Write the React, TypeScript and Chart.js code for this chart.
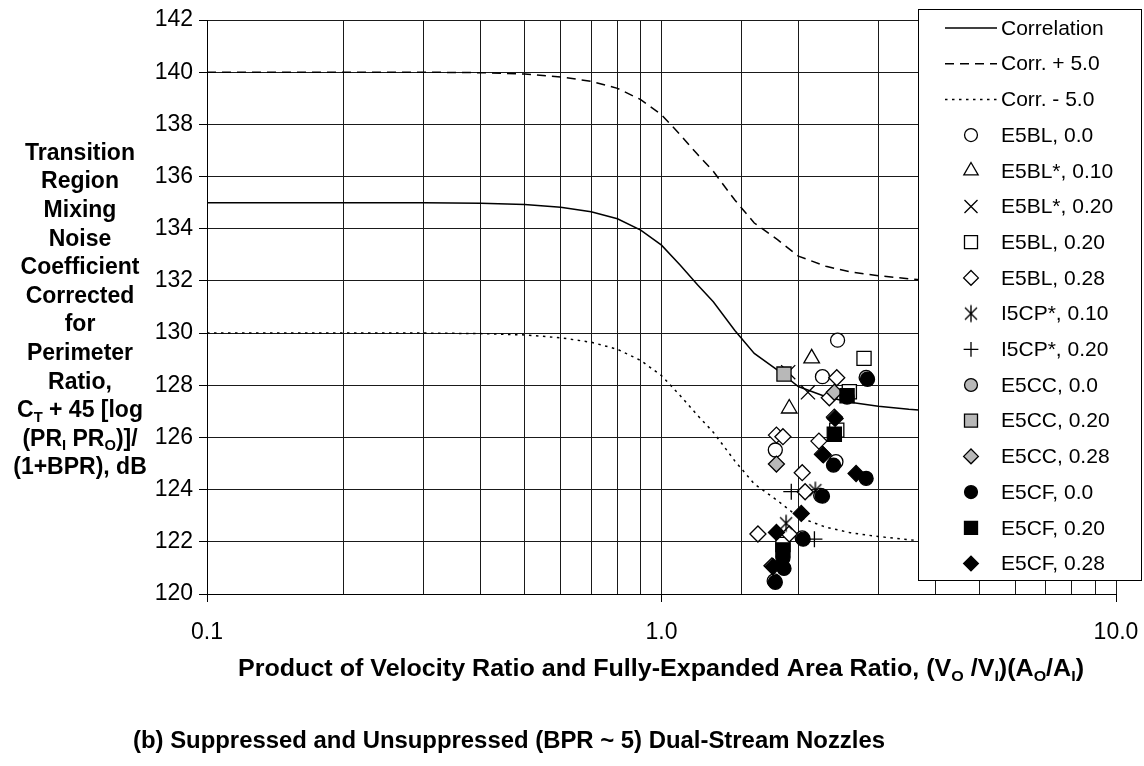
import React, { useEffect, useRef } from 'react';
import { Chart, registerables } from 'chart.js';
import { drawPoint } from 'chart.js/helpers';

Chart.register(...registerables);

const FONT = '"Liberation Sans", Arial, Helvetica, sans-serif';

// Correlation curves
const CORR_X = [0.1, 0.2, 0.3, 0.4, 0.5, 0.6, 0.7, 0.8, 0.9, 1.0, 1.1, 1.2, 1.3, 1.45, 1.6, 1.8, 2.0, 2.3, 2.6, 3.0, 3.5, 4.0, 5.0, 6.0, 8.0, 10.0];
const CORR_Y = [135.0, 135.0, 135.0, 134.98, 134.93, 134.82, 134.65, 134.38, 133.95, 133.37, 132.6, 131.85, 131.2, 130.1, 129.22, 128.58, 127.95, 127.56, 127.35, 127.2, 127.08, 127.0, 126.9, 126.85, 126.8, 126.75];
const CORR_PLUS_Y = [140.0, 140.0, 140.0, 139.98, 139.93, 139.82, 139.65, 139.38, 138.95, 138.37, 137.6, 136.85, 136.2, 135.1, 134.22, 133.58, 132.95, 132.56, 132.35, 132.2, 132.08, 132.0, 131.9, 131.85, 131.8, 131.75];
const CORR_MINUS_Y = [130.0, 130.0, 130.0, 129.98, 129.93, 129.82, 129.65, 129.38, 128.95, 128.37, 127.6, 126.85, 126.2, 125.1, 124.22, 123.58, 122.95, 122.56, 122.35, 122.2, 122.08, 122.0, 121.9, 121.85, 121.8, 121.75];

// Measured points [x, y]
const E5BL_00: [number, number][] = [[2.44, 129.73], [2.26, 128.33], [1.78, 125.52], [2.42, 125.07], [2.24, 123.78], [2.04, 122.15], [1.77, 120.5]];
const E5BLS_10: [number, number][] = [[2.14, 129.03], [1.91, 127.11]];
const E5BLS_20: [number, number][] = [[1.9, 128.5], [2.1, 127.73]];
const E5BL_20: [number, number][] = [[2.79, 129.03], [2.59, 127.75], [2.43, 126.28], [1.85, 121.9]];
const E5BL_28: [number, number][] = [[2.43, 128.29], [2.34, 127.52], [1.79, 126.09], [1.85, 126.03], [2.22, 125.86], [2.04, 124.65], [2.07, 123.92], [1.63, 122.3], [1.91, 122.3]];
const I5CPS_10: [number, number][] = [[2.18, 123.98], [1.88, 122.71]];
const I5CPS_20: [number, number][] = [[1.93, 123.92], [2.17, 122.1]];
const E5CC_00: [number, number][] = [[2.82, 128.3]];
const E5CC_20: [number, number][] = [[1.86, 128.43]];
const E5CC_28: [number, number][] = [[2.4, 127.73], [1.79, 124.98], [2.4, 126.78], [2.26, 125.36], [1.75, 121.08]];
const E5CF_00: [number, number][] = [[2.84, 128.23], [2.56, 127.55], [2.39, 124.94], [2.82, 124.43], [2.26, 123.75], [2.05, 122.1], [1.85, 121.37], [1.86, 120.98], [1.78, 120.45]];
const E5CF_20: [number, number][] = [[2.56, 127.6], [2.4, 126.12], [1.85, 121.69]];
const E5CF_28: [number, number][] = [[2.41, 126.73], [2.27, 125.33], [2.68, 124.62], [2.03, 123.09], [1.79, 122.36], [1.76, 121.05]];

const Y_MIN = 120;
const Y_MAX = 142;
const Y_STEP = 2;
const X_MIN = 0.1;
const X_MAX = 10;

type Seg = [string, boolean];
const Y_TITLE: Seg[][] = [
  [['Transition', false]],
  [['Region', false]],
  [['Mixing', false]],
  [['Noise', false]],
  [['Coefficient', false]],
  [['Corrected', false]],
  [['for', false]],
  [['Perimeter', false]],
  [['Ratio,', false]],
  [['C', false], ['T', true], [' + 45 [log', false]],
  [['(PR', false], ['I', true], [' PR', false], ['O', true], [')]/', false]],
  [['(1+BPR), dB', false]],
];
const X_TITLE: Seg[] = [
  ['Product of Velocity Ratio and Fully-Expanded Area Ratio, (V', false], ['O', true], [' /V', false], ['I', true],
  [')(A', false], ['O', true], ['/A', false], ['I', true], [')', false],
];
const CAPTION: Seg[] = [['(b) Suppressed and Unsuppressed (BPR ~ 5) Dual-Stream Nozzles', false]];

function drawRich(ctx: CanvasRenderingContext2D, segs: Seg[], cx: number, cy: number, size: number, targetW?: number) {
  const sub = size * 0.64;
  let w = 0;
  segs.forEach(([t, s]) => {
    ctx.font = `bold ${s ? sub : size}px ${FONT}`;
    w += ctx.measureText(t).width;
  });
  const sx = targetW ? targetW / w : 1;
  ctx.save();
  ctx.translate(cx - (w * sx) / 2, cy + size * 0.36);
  ctx.scale(sx, 1);
  let x = 0;
  ctx.textAlign = 'left';
  ctx.textBaseline = 'alphabetic';
  segs.forEach(([t, s]) => {
    ctx.font = `bold ${s ? sub : size}px ${FONT}`;
    ctx.fillText(t, x, s ? size * 0.2 : 0);
    x += ctx.measureText(t).width;
  });
  ctx.restore();
}

const textPlugin = {
  id: 'textPlugin',
  afterDraw(chart: any) {
    const ctx: CanvasRenderingContext2D = chart.ctx;
    ctx.save();
    ctx.fillStyle = '#000';
    Y_TITLE.forEach((line, i) => drawRich(ctx, line, 80, 151.5 + i * 28.6, 23));
    drawRich(ctx, X_TITLE, 661, 668, 23, 846);
    drawRich(ctx, CAPTION, 509, 740, 23, 752);
    ctx.restore();
  },
};

const legendPlugin = {
  id: 'boxLegend',
  afterDraw(chart: any) {
    const ctx: CanvasRenderingContext2D = chart.ctx;
    ctx.save();
    ctx.fillStyle = '#fff';
    ctx.fillRect(918.5, 9.5, 223, 571);
    ctx.strokeStyle = '#000';
    ctx.lineWidth = 1;
    ctx.setLineDash([]);
    ctx.strokeRect(918.5, 9.5, 223, 571);
    chart.data.datasets.forEach((ds: any, i: number) => {
      const y = 28 + i * 35.7;
      if (ds.type === 'line') {
        ctx.strokeStyle = '#000';
        ctx.lineWidth = ds.borderWidth;
        ctx.setLineDash(ds.borderDash || []);
        ctx.beginPath();
        ctx.moveTo(945, y);
        ctx.lineTo(997, y);
        ctx.stroke();
        ctx.setLineDash([]);
      } else {
        ctx.fillStyle = ds.pointBackgroundColor;
        ctx.strokeStyle = '#000';
        ctx.lineWidth = ds.pointBorderWidth;
        drawPoint(ctx, { pointStyle: ds.pointStyle, radius: ds.pointRadius * 0.92, borderWidth: ds.pointBorderWidth, rotation: 0 } as any, 971, y);
      }
      ctx.fillStyle = '#000';
      ctx.font = `21px ${FONT}`;
      ctx.textAlign = 'left';
      ctx.textBaseline = 'middle';
      ctx.fillText(ds.label, 1001, y + 1);
    });
    ctx.restore();
  },
};

function makeAsterisk(): HTMLCanvasElement {
  const c = document.createElement('canvas');
  c.width = 20;
  c.height = 20;
  const g = c.getContext('2d')!;
  g.strokeStyle = '#000';
  g.lineWidth = 1.4;
  g.beginPath();
  g.moveTo(10, 1.5); g.lineTo(10, 18.5);
  g.moveTo(4, 4); g.lineTo(16, 16);
  g.moveTo(16, 4); g.lineTo(4, 16);
  g.stroke();
  return c;
}

export default function App() {
  const ref = useRef<HTMLCanvasElement | null>(null);
  useEffect(() => {
    document.body.style.margin = '0';
    const canvas = ref.current!;
    const asterisk = makeAsterisk();
    const line = (label: string, ys: number[], dash: number[], width: number) => ({
      type: 'line', label, data: CORR_X.map((x, i) => ({ x, y: ys[i] })), borderColor: '#000', borderWidth: width,
      borderDash: dash, pointRadius: 0, fill: false, tension: 0, showLine: true,
    });
    const mk = (label: string, pts: [number, number][], style: any, radius: number, fill: string) => ({
      type: 'scatter', label, data: pts.map(([x, y]) => ({ x, y })), pointStyle: style, pointRadius: radius,
      pointBackgroundColor: fill, pointBorderColor: '#000', pointBorderWidth: 1.3, backgroundColor: fill,
      borderColor: '#000', showLine: false,
    });
    const GRAY = '#b8b8b8';
    const datasets: any[] = [
      line('Correlation', CORR_Y, [], 1.5),
      line('Corr. + 5.0', CORR_PLUS_Y, [9, 6], 1.5),
      line('Corr. - 5.0', CORR_MINUS_Y, [2.5, 4.5], 1.5),
      mk('E5BL, 0.0', E5BL_00, 'circle', 7, '#fff'),
      mk('E5BL*, 0.10', E5BLS_10, 'triangle', 9, '#fff'),
      mk('E5BL*, 0.20', E5BLS_20, 'crossRot', 10, '#fff'),
      mk('E5BL, 0.20', E5BL_20, 'rect', 10, '#fff'),
      mk('E5BL, 0.28', E5BL_28, 'rectRot', 8, '#fff'),
      mk('I5CP*, 0.10', I5CPS_10, asterisk, 8, '#fff'),
      mk('I5CP*, 0.20', I5CPS_20, 'cross', 8, '#fff'),
      mk('E5CC, 0.0', E5CC_00, 'circle', 7, GRAY),
      mk('E5CC, 0.20', E5CC_20, 'rect', 10, GRAY),
      mk('E5CC, 0.28', E5CC_28, 'rectRot', 8, GRAY),
      mk('E5CF, 0.0', E5CF_00, 'circle', 7, '#000'),
      mk('E5CF, 0.20', E5CF_20, 'rect', 10, '#000'),
      mk('E5CF, 0.28', E5CF_28, 'rectRot', 8, '#000'),
    ];
    datasets.forEach((d, i) => { d.order = datasets.length - i; });

    const chart = new Chart(canvas, {
      type: 'scatter',
      data: { datasets },
      plugins: [textPlugin, legendPlugin],
      options: {
        animation: false,
        responsive: false,
        devicePixelRatio: 1,
        events: [],
        layout: { padding: { left: 0, top: 20, right: 28, bottom: 0 } },
        plugins: { legend: { display: false }, tooltip: { enabled: false }, title: { display: false } },
        scales: {
          x: {
            type: 'logarithmic',
            min: X_MIN,
            max: X_MAX,
            afterFit: (s: any) => { s.height = 172; s.paddingLeft = 0; s.paddingRight = 0; },
            border: { display: true, color: '#000', width: 1 },
            grid: {
              color: '#1a1a1a', lineWidth: 1, tickLength: 8,
              tickColor: (c: any) => {
                const v = c.tick ? c.tick.value : 0;
                const l = Math.log10(v);
                return Math.abs(l - Math.round(l)) < 1e-6 ? '#000' : 'rgba(0,0,0,0)';
              },
            },
            ticks: {
              autoSkip: false, maxRotation: 0, minRotation: 0, color: '#000', padding: 17,
              font: { family: FONT, size: 23 },
              callback: (v: any) => {
                const l = Math.log10(Number(v));
                return Math.abs(l - Math.round(l)) < 1e-6 ? Number(v).toFixed(1) : '';
              },
            },
          },
          y: {
            type: 'linear',
            min: Y_MIN,
            max: Y_MAX,
            afterFit: (s: any) => { s.width = 207; s.paddingTop = 0; s.paddingBottom = 0; },
            border: { display: true, color: '#000', width: 1 },
            grid: { color: '#1a1a1a', lineWidth: 1, tickLength: 8, tickColor: '#000' },
            ticks: { stepSize: Y_STEP, color: '#000', padding: 6, font: { family: FONT, size: 23 } },
          },
        },
      } as any,
    });
    return () => chart.destroy();
  }, []);
  return (
    <div style={{ width: 1144, height: 766, background: '#fff' }}>
      <canvas ref={ref} width={1144} height={766} style={{ width: 1144, height: 766, display: 'block' }} />
    </div>
  );
}
